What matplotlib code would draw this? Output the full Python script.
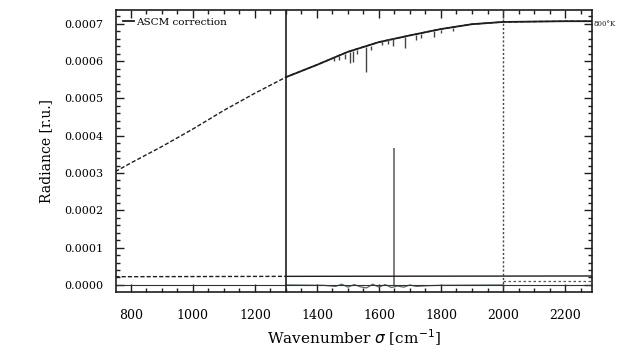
import matplotlib
matplotlib.use("Agg")
import matplotlib.pyplot as plt
from matplotlib.ticker import MultipleLocator, FormatStrFormatter

INK = "#1e1e1e"

# blackbody reference curve (wavenumber cm-1, radiance r.u.)
bb_wn = [750, 800, 900, 1000, 1100, 1200, 1300, 1400, 1500, 1600, 1700,
         1800, 1900, 2000, 2100, 2200, 2290]
bb_rad = [3.04e-4, 3.27e-4, 3.71e-4, 4.18e-4, 4.68e-4, 5.14e-4, 5.57e-4,
          5.90e-4, 6.25e-4, 6.51e-4, 6.69e-4, 6.86e-4, 6.99e-4, 7.05e-4,
          7.06e-4, 7.07e-4, 7.07e-4]

# measured (corrected) spectrum, solid part from 1300 on
spec_wn = [1300, 1400, 1500, 1600, 1700, 1800, 1900, 2000, 2100, 2200, 2290]
spec_rad = [5.57e-4, 5.90e-4, 6.25e-4, 6.51e-4, 6.69e-4, 6.86e-4, 6.99e-4,
            7.05e-4, 7.06e-4, 7.07e-4, 7.07e-4]

# absorption lines: position, top, bottom
line_wn = [1455, 1470, 1490, 1505, 1515, 1530, 1558, 1575, 1610, 1630,
           1645, 1684, 1720, 1735, 1777, 1800, 1840]
line_top = [6.10e-4, 6.14e-4, 6.20e-4, 6.24e-4, 6.27e-4, 6.30e-4, 6.37e-4,
            6.41e-4, 6.54e-4, 6.58e-4, 6.62e-4, 6.66e-4, 6.71e-4, 6.73e-4,
            6.80e-4, 6.84e-4, 6.89e-4]
line_bot = [6.00e-4, 6.02e-4, 6.06e-4, 5.94e-4, 5.97e-4, 6.18e-4, 5.72e-4,
            6.30e-4, 6.44e-4, 6.47e-4, 6.40e-4, 6.36e-4, 6.57e-4, 6.62e-4,
            6.66e-4, 6.76e-4, 6.82e-4]

# isolated spike at 1650
spike_wn = 1650
spike_top = 3.67e-4

# lower curves near zero
low_wn = [750, 1300, 2290]
low_rad = [2.2e-5, 2.3e-5, 2.4e-5]
resid_wn = [1300, 1420, 1460, 1480, 1500, 1520, 1540, 1560, 1580, 1600,
            1620, 1640, 1660, 1680, 1700, 1720, 1760, 1800, 2000]
resid_rad = [0.0, -1e-6, -4e-6, 2e-6, -6e-6, 1e-6, -5e-6, -8e-6, 2e-6,
             -6e-6, 1e-6, -7e-6, -3e-6, -6e-6, 0.0, -4e-6, -2e-6, -1e-6, 0.0]
tail_wn = [2000, 2290]
tail_rad = [1.0e-5, 1.0e-5]

plt.rcParams.update({
    "font.family": "DejaVu Serif",
    "axes.linewidth": 1.2,
    "axes.edgecolor": INK,
})

fig = plt.figure(figsize=(6.19, 3.54), dpi=100)
ax = fig.add_axes([0.1874, 0.1751, 0.769, 0.7966])

ax.plot(bb_wn, bb_rad, color=INK, lw=1.0, ls=(0, (3, 1.5)))
ax.plot(spec_wn, spec_rad, color=INK, lw=1.3, label="ASCM correction")
ax.vlines(line_wn, line_bot, line_top, color="#444444", lw=1.0)
ax.vlines(spike_wn, 0, spike_top, color="#666666", lw=1.2)

ax.plot(low_wn[:2], low_rad[:2], color=INK, lw=1.0, ls=(0, (3, 1.5)))
ax.plot(low_wn[1:], low_rad[1:], color=INK, lw=1.0)
ax.plot(resid_wn, resid_rad, color="#5a6a5a", lw=0.9)
ax.plot(tail_wn, tail_rad, color="#555555", lw=0.9, ls=(0, (2, 2)))
ax.axhline(0, color="#333333", lw=0.8)

ax.axvline(1300, color=INK, lw=1.2)
ax.axvline(2000, color="#444444", lw=1.0, ls=(0, (1.5, 1.5)))

ax.set_xlim(752, 2287)
ax.set_ylim(-1.9e-5, 7.37e-4)
ax.xaxis.set_major_locator(MultipleLocator(200))
ax.xaxis.set_minor_locator(MultipleLocator(50))
ax.yaxis.set_major_locator(MultipleLocator(1e-4))
ax.yaxis.set_minor_locator(MultipleLocator(2e-5))
ax.yaxis.set_major_formatter(FormatStrFormatter("%.4f"))
ax.tick_params(which="both", direction="in", top=True, right=True,
               color=INK, width=1.0)
ax.tick_params(which="major", length=6)
ax.tick_params(which="minor", length=3)
ax.tick_params(axis="x", labelsize=9, pad=12)
ax.tick_params(axis="y", labelsize=8, pad=9)

ax.set_xlabel(r"Wavenumber $\sigma$ [cm$^{-1}$]", fontsize=11, labelpad=4)
ax.set_ylabel("Radiance [r.u.]", fontsize=10, labelpad=8)

ax.legend(loc="upper left", frameon=False, fontsize=7.5, handlelength=1.0,
          handletextpad=0.2, borderaxespad=0.6, borderpad=0.1)
ax.text(1.004, 0.95, "800\u00b0K", transform=ax.transAxes, fontsize=5,
        va="center", ha="left", color=INK)

fig.savefig("out.png", dpi=100)
